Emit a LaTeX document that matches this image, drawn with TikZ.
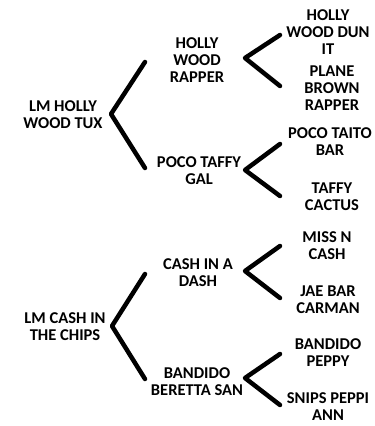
\documentclass[tikz,border=0pt]{standalone}
\usepackage{fontspec}
\setmainfont{Carlito}
\begin{document}
\begin{tikzpicture}[x=1pt,y=-1pt,
  lbl/.style={font=\bfseries\fontsize{16.5}{17}\selectfont, align=center, inner sep=0pt, text=black},
  brk/.style={line width=4.5pt, line cap=round, line join=round, black}]
\useasboundingbox (0,0) rectangle (375,426);
% top tree
\node[lbl] (r1) at (63,114.5) {LM HOLLY\\WOOD TUX};
\node[lbl] (c1) at (197,60) {HOLLY\\WOOD\\RAPPER};
\node[lbl] (c2) at (199,170.5) {POCO TAFFY\\GAL};
\node[lbl] (g1) at (328,32.5) {HOLLY\\WOOD DUN\\IT};
\node[lbl] (g2) at (332,88) {PLANE\\BROWN\\RAPPER};
\node[lbl] (g3) at (330,142) {POCO TAITO\\BAR};
\node[lbl] (g4) at (332,196.5) {TAFFY\\CACTUS};
% bottom tree
\node[lbl] (r2) at (65,327) {LM CASH IN\\THE CHIPS};
\node[lbl] (c3) at (198,273) {CASH IN A\\DASH};
\node[lbl] (c4) at (197,381.5) {BANDIDO\\BERETTA SAN};
\node[lbl] (g5) at (327,245.5) {MISS N\\CASH};
\node[lbl] (g6) at (328,299.5) {JAE BAR\\CARMAN};
\node[lbl] (g7) at (328,353) {BANDIDO\\PEPPY};
\node[lbl] (g8) at (328,407) {SNIPS PEPPI\\ANN};
% bracket points
\coordinate (a1) at (111,114);  \coordinate (u1) at (145,62);  \coordinate (l1) at (145,168);
\coordinate (a2) at (245,58);   \coordinate (u2) at (280,35);  \coordinate (l2) at (280,86);
\coordinate (a3) at (245,170);  \coordinate (u3) at (280,144); \coordinate (l3) at (280,196);
\coordinate (a4) at (112,326);  \coordinate (u4) at (145,274); \coordinate (l4) at (145,379);
\coordinate (a5) at (245,271);  \coordinate (u5) at (280,246); \coordinate (l5) at (280,298);
\coordinate (a6) at (245,378);  \coordinate (u6) at (280,354); \coordinate (l6) at (280,405);
\foreach \i in {1,...,6} { \draw[brk] (u\i) -- (a\i) -- (l\i); }
\end{tikzpicture}
\end{document}
